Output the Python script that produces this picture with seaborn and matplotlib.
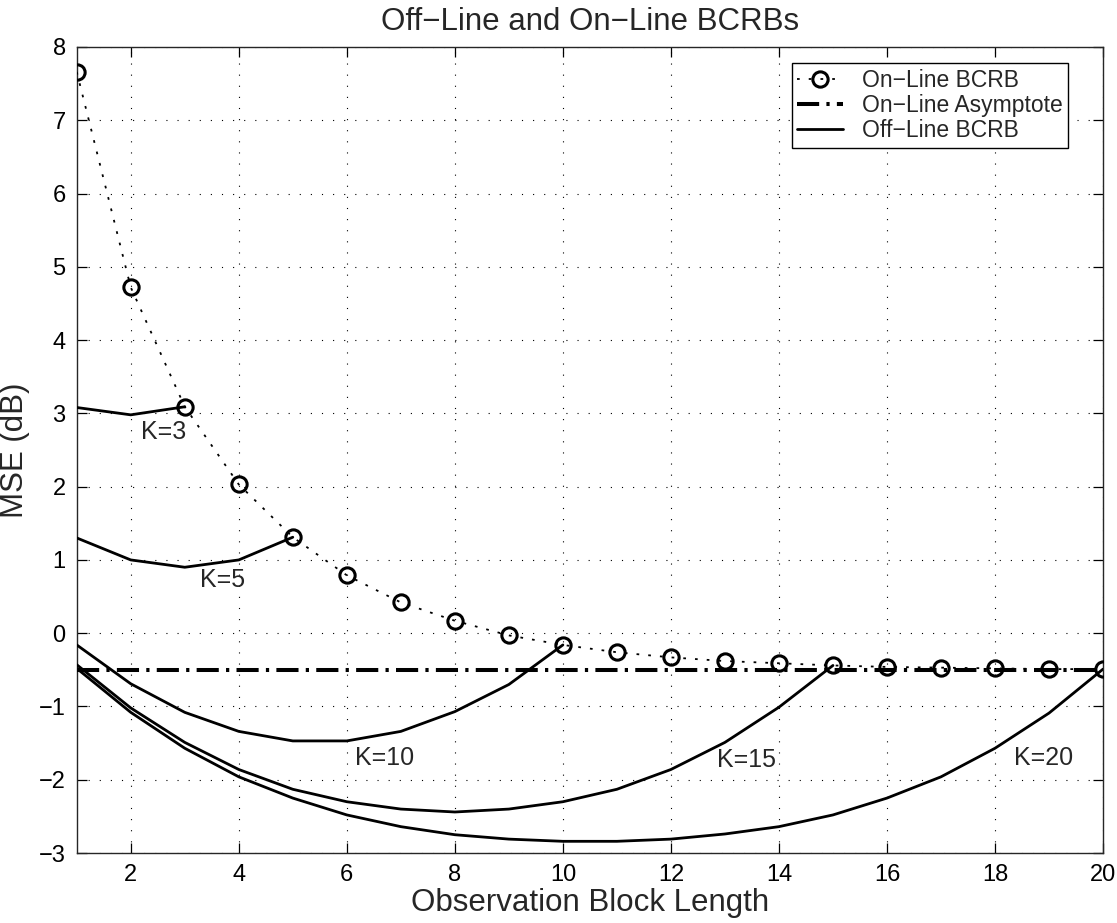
import numpy as np
import pandas as pd
import matplotlib
matplotlib.use("Agg")
import matplotlib.pyplot as plt
import seaborn as sns

# ── Data ────────────────────────────────────────────────────────
n_online = list(range(1, 21))
online_bcrb = [7.66, 4.72, 3.09, 2.03, 1.31, 0.79, 0.42, 0.17, -0.03, -0.16,
               -0.26, -0.33, -0.38, -0.41, -0.44, -0.46, -0.47, -0.48, -0.49, -0.49]
asymptote = -0.5

offline_k3 = [3.08, 2.98, 3.09]
offline_k5 = [1.30, 1.00, 0.90, 1.00, 1.31]
offline_k10 = [-0.16, -0.69, -1.08, -1.34, -1.47, -1.47, -1.34, -1.07, -0.70, -0.16]
offline_k15 = [-0.43, -1.02, -1.49, -1.86, -2.13, -2.30, -2.40, -2.44, -2.40, -2.30,
               -2.13, -1.86, -1.49, -1.01, -0.44]
offline_k20 = [-0.48, -1.08, -1.57, -1.96, -2.25, -2.48, -2.64, -2.75, -2.81, -2.84,
               -2.84, -2.81, -2.74, -2.64, -2.48, -2.25, -1.96, -1.57, -1.09, -0.49]

k_labels = ["K=3", "K=5", "K=10", "K=15", "K=20"]
k_label_x = [2.6, 3.7, 6.7, 13.4, 18.9]
k_label_y = [2.75, 0.73, -1.70, -1.73, -1.70]

rows = []
for k, vals in zip([3, 5, 10, 15, 20], [offline_k3, offline_k5, offline_k10, offline_k15, offline_k20]):
    for i, v in enumerate(vals):
        rows.append({"K": k, "N": i + 1, "MSE": v})
offline = pd.DataFrame(rows)
online = pd.DataFrame({"N": n_online, "MSE": online_bcrb})

# ── Style ───────────────────────────────────────────────────────
sns.set_theme(style="ticks")
plt.rcParams.update({
    "font.family": ["Liberation Sans", "DejaVu Sans"],
    "xtick.direction": "in",
    "ytick.direction": "in",
    "xtick.top": True,
    "ytick.right": True,
    "axes.linewidth": 1.0,
})

fig = plt.figure(figsize=(11.17, 9.23), dpi=100)
ax = fig.add_axes([0.0687, 0.0758, 0.9188, 0.8733])

sns.lineplot(data=online, x="N", y="MSE", ax=ax, color="black", linestyle=(0, (1.5, 5)),
             linewidth=1.3, marker="o", markersize=11, markerfacecolor="none",
             markeredgecolor="black", markeredgewidth=2.2, label="On\u2212Line BCRB",
             zorder=4)
ax.axhline(asymptote, color="black", linestyle=(0, (5.5, 1.8, 0.8, 1.8)), linewidth=2.9,
           label="On\u2212Line Asymptote", zorder=3)
sns.lineplot(data=offline, x="N", y="MSE", units="K", estimator=None, ax=ax,
             color="black", linewidth=2.0, label="Off\u2212Line BCRB", zorder=3)

for txt, tx, ty in zip(k_labels, k_label_x, k_label_y):
    ax.text(tx, ty, txt, ha="center", va="center", fontsize=18)

ax.set_xlim(1, 20)
ax.set_ylim(-3, 8)
ax.set_xticks(range(2, 21, 2))
ax.set_yticks(range(-3, 9))
ax.set_yticklabels([str(v).replace("-", "\u2212") for v in range(-3, 9)])
ax.tick_params(labelsize=17, length=7, width=0.9, colors="black", pad=8)
ax.grid(True, linestyle=(0, (1, 9)), color="black", linewidth=0.8)
ax.set_xlabel("Observation Block Length", fontsize=22.5, labelpad=1)
ax.set_ylabel("MSE (dB)", fontsize=22.5, labelpad=6)
ax.set_title("Off\u2212Line and On\u2212Line BCRBs", fontsize=22.5, pad=12)

handles, labels = ax.get_legend_handles_labels()
leg = ax.legend(handles[:3], labels[:3], loc="upper right", bbox_to_anchor=(0.966, 0.98),
                fontsize=16.5, frameon=True, fancybox=False, edgecolor="black",
                borderaxespad=0.0, handlelength=2.0, handletextpad=0.8,
                labelspacing=0.1, borderpad=0.25, framealpha=1.0)
leg.get_frame().set_linewidth(1.0)

fig.savefig("out.png", dpi=100)
